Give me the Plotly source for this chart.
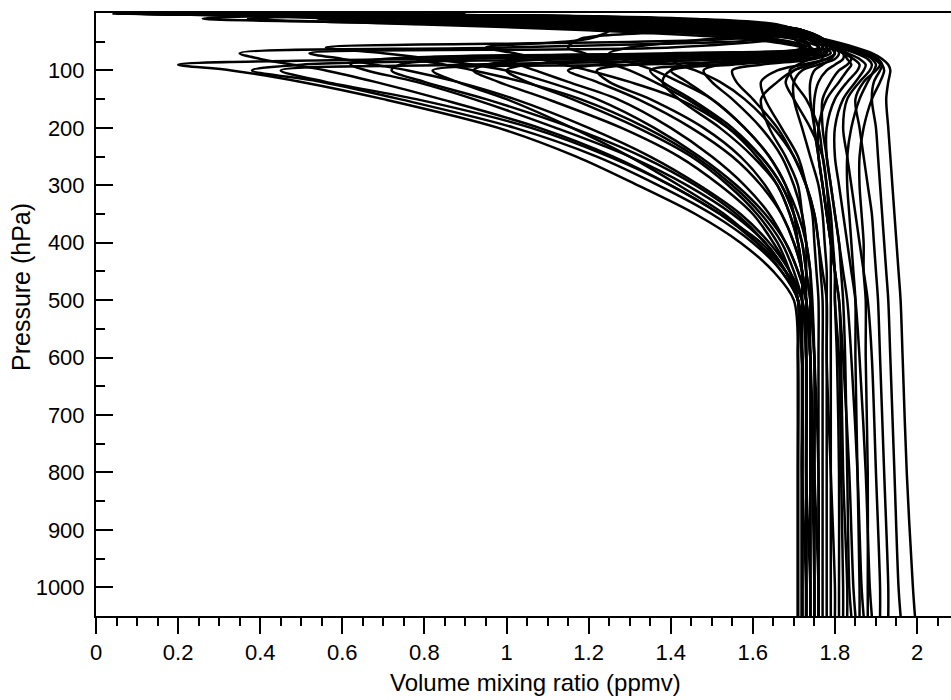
import plotly.graph_objects as go

# Pressure levels (hPa), top to bottom
p_hpa = [1, 5, 10, 20, 30, 45, 60, 70, 80, 90, 100, 120, 150, 200, 250, 300, 350, 400, 450, 500, 600, 800, 1000, 1050]

# Volume mixing ratio profiles (ppmv), one value per pressure level
prof_p01 = [0.10, 0.60, 0.95, 1.30, 1.55, 1.70, 1.72, 1.62, 0.75, 0.20, 0.33, 0.50, 0.70, 0.98, 1.17, 1.32, 1.46, 1.57, 1.65, 1.70, 1.71, 1.71, 1.71, 1.71]
prof_p02 = [0.05, 0.45, 0.80, 1.15, 1.45, 1.62, 1.00, 0.35, 0.40, 0.48, 0.56, 0.68, 0.84, 1.08, 1.26, 1.40, 1.52, 1.61, 1.68, 1.71, 1.72, 1.72, 1.72, 1.72]
prof_p03 = [0.15, 0.70, 1.05, 1.38, 1.60, 1.72, 1.74, 1.70, 1.20, 0.50, 0.38, 0.55, 0.74, 1.02, 1.22, 1.37, 1.50, 1.60, 1.67, 1.71, 1.72, 1.72, 1.72, 1.72]
prof_p04 = [0.20, 0.80, 1.15, 1.45, 1.63, 1.75, 1.76, 1.74, 1.55, 0.90, 0.45, 0.56, 0.78, 1.06, 1.25, 1.40, 1.52, 1.62, 1.68, 1.72, 1.73, 1.73, 1.73, 1.73]
prof_p05 = [0.25, 0.55, 0.70, 1.00, 1.35, 1.66, 1.40, 0.52, 0.60, 0.68, 0.76, 0.88, 1.02, 1.20, 1.35, 1.47, 1.57, 1.64, 1.69, 1.72, 1.73, 1.73, 1.74, 1.74]
prof_p06 = [0.30, 0.95, 1.30, 1.58, 1.70, 1.55, 0.56, 0.70, 0.82, 0.92, 1.00, 1.10, 1.22, 1.36, 1.47, 1.56, 1.63, 1.68, 1.71, 1.73, 1.74, 1.74, 1.74, 1.74]
prof_p07 = [0.40, 1.10, 1.40, 1.62, 1.72, 1.77, 1.78, 1.40, 0.78, 0.85, 0.92, 1.04, 1.18, 1.34, 1.46, 1.55, 1.62, 1.67, 1.70, 1.72, 1.73, 1.73, 1.73, 1.73]
prof_p08 = [0.12, 0.65, 1.00, 1.35, 1.58, 1.73, 1.76, 1.75, 1.68, 1.30, 0.82, 0.88, 1.00, 1.16, 1.30, 1.42, 1.53, 1.61, 1.67, 1.71, 1.72, 1.72, 1.72, 1.72]
prof_p09 = [0.08, 0.35, 0.60, 0.90, 1.25, 1.20, 0.95, 1.02, 1.08, 1.14, 1.20, 1.30, 1.42, 1.54, 1.62, 1.67, 1.70, 1.72, 1.73, 1.74, 1.75, 1.75, 1.75, 1.75]
prof_p10 = [0.22, 0.85, 1.20, 1.50, 1.66, 1.74, 1.76, 1.50, 1.00, 1.03, 1.07, 1.15, 1.27, 1.40, 1.50, 1.58, 1.64, 1.68, 1.71, 1.73, 1.74, 1.74, 1.74, 1.74]
prof_p11 = [0.06, 0.50, 0.85, 1.20, 1.48, 1.18, 1.15, 1.19, 1.22, 1.26, 1.30, 1.36, 1.44, 1.54, 1.61, 1.66, 1.69, 1.71, 1.72, 1.73, 1.74, 1.75, 1.76, 1.76]
prof_p12 = [0.18, 0.75, 1.10, 1.42, 1.62, 1.75, 1.78, 1.78, 1.72, 1.50, 1.35, 1.38, 1.45, 1.55, 1.62, 1.67, 1.70, 1.72, 1.73, 1.74, 1.75, 1.76, 1.76, 1.76]
prof_p13 = [0.32, 1.00, 1.34, 1.60, 1.71, 1.76, 1.77, 1.65, 1.40, 1.42, 1.46, 1.52, 1.58, 1.65, 1.70, 1.73, 1.75, 1.76, 1.77, 1.78, 1.78, 1.79, 1.80, 1.80]
prof_p14 = [0.28, 0.58, 0.75, 1.05, 1.40, 1.70, 1.74, 1.45, 0.70, 0.62, 0.66, 0.78, 0.92, 1.12, 1.30, 1.44, 1.55, 1.63, 1.68, 1.71, 1.72, 1.72, 1.73, 1.73]
prof_p15 = [0.70, 0.42, 0.26, 0.90, 1.30, 1.65, 1.74, 1.76, 1.77, 1.74, 1.70, 1.66, 1.62, 1.64, 1.68, 1.71, 1.72, 1.73, 1.74, 1.74, 1.74, 1.745, 1.75, 1.75]
prof_p16 = [0.80, 0.55, 0.37, 0.80, 1.20, 1.58, 1.72, 1.75, 1.70, 1.55, 1.40, 1.38, 1.42, 1.52, 1.60, 1.66, 1.69, 1.71, 1.72, 1.72, 1.72, 1.72, 1.72, 1.72]
prof_p17 = [0.90, 0.70, 0.54, 0.95, 1.35, 1.62, 1.73, 1.70, 1.30, 1.05, 1.00, 1.05, 1.16, 1.32, 1.45, 1.54, 1.61, 1.66, 1.69, 1.71, 1.71, 1.71, 1.71, 1.71]

prof_t01 = [0.20, 0.85, 1.22, 1.52, 1.67, 1.77, 1.85, 1.89, 1.915, 1.93, 1.935, 1.93, 1.925, 1.93, 1.935, 1.94, 1.945, 1.95, 1.955, 1.96, 1.965, 1.975, 1.99, 1.995]
prof_t02 = [0.12, 0.68, 1.02, 1.36, 1.60, 1.76, 1.84, 1.88, 1.905, 1.915, 1.91, 1.895, 1.89, 1.90, 1.905, 1.91, 1.915, 1.92, 1.925, 1.93, 1.935, 1.945, 1.955, 1.96]
prof_t03 = [0.35, 1.05, 1.38, 1.62, 1.72, 1.77, 1.82, 1.86, 1.895, 1.91, 1.90, 1.87, 1.85, 1.86, 1.87, 1.88, 1.89, 1.895, 1.90, 1.905, 1.91, 1.92, 1.93, 1.93]
prof_t04 = [0.05, 0.50, 0.88, 1.25, 1.52, 1.74, 1.81, 1.85, 1.88, 1.89, 1.885, 1.86, 1.83, 1.82, 1.83, 1.84, 1.85, 1.86, 1.87, 1.88, 1.89, 1.90, 1.91, 1.91]
prof_t05 = [0.28, 0.92, 1.28, 1.56, 1.69, 1.77, 1.80, 1.83, 1.86, 1.875, 1.87, 1.85, 1.82, 1.80, 1.80, 1.81, 1.82, 1.83, 1.84, 1.85, 1.86, 1.875, 1.885, 1.89]
prof_t06 = [0.16, 0.72, 1.08, 1.40, 1.62, 1.76, 1.79, 1.82, 1.845, 1.86, 1.855, 1.83, 1.80, 1.78, 1.78, 1.79, 1.80, 1.81, 1.82, 1.83, 1.84, 1.855, 1.865, 1.87]
prof_t07 = [0.38, 1.08, 1.40, 1.63, 1.72, 1.77, 1.80, 1.82, 1.83, 1.84, 1.83, 1.81, 1.78, 1.76, 1.76, 1.77, 1.78, 1.79, 1.80, 1.81, 1.82, 1.835, 1.845, 1.85]
prof_t08 = [0.10, 0.62, 0.98, 1.33, 1.58, 1.75, 1.80, 1.82, 1.82, 1.80, 1.78, 1.76, 1.75, 1.75, 1.76, 1.77, 1.78, 1.79, 1.80, 1.81, 1.815, 1.82, 1.83, 1.83]
prof_t09 = [0.24, 0.88, 1.25, 1.55, 1.68, 1.75, 1.79, 1.80, 1.78, 1.74, 1.70, 1.68, 1.70, 1.74, 1.77, 1.78, 1.79, 1.795, 1.80, 1.80, 1.805, 1.81, 1.81, 1.81]
prof_t10 = [0.42, 1.12, 1.42, 1.64, 1.72, 1.76, 1.78, 1.77, 1.74, 1.71, 1.69, 1.70, 1.73, 1.76, 1.77, 1.78, 1.785, 1.79, 1.79, 1.79, 1.79, 1.79, 1.79, 1.79]
prof_t11 = [0.14, 0.70, 1.05, 1.38, 1.61, 1.77, 1.82, 1.87, 1.89, 1.90, 1.895, 1.88, 1.86, 1.84, 1.83, 1.83, 1.835, 1.84, 1.845, 1.85, 1.85, 1.855, 1.86, 1.86]
prof_t12 = [0.30, 0.98, 1.32, 1.59, 1.70, 1.77, 1.83, 1.87, 1.90, 1.915, 1.92, 1.91, 1.89, 1.87, 1.86, 1.86, 1.865, 1.87, 1.87, 1.875, 1.875, 1.88, 1.88, 1.88]

prof_m01 = [0.18, 0.78, 1.12, 1.44, 1.64, 1.76, 1.78, 1.72, 1.40, 1.22, 1.15, 1.22, 1.32, 1.45, 1.55, 1.62, 1.67, 1.70, 1.72, 1.73, 1.73, 1.73, 1.73, 1.73]
prof_m02 = [0.08, 0.55, 0.90, 1.26, 1.53, 1.74, 1.77, 1.76, 1.60, 1.45, 1.40, 1.44, 1.50, 1.58, 1.64, 1.68, 1.71, 1.73, 1.74, 1.745, 1.75, 1.75, 1.75, 1.75]
prof_m03 = [0.26, 0.90, 1.26, 1.55, 1.69, 1.76, 1.78, 1.79, 1.75, 1.62, 1.55, 1.56, 1.60, 1.66, 1.70, 1.73, 1.75, 1.76, 1.765, 1.77, 1.77, 1.77, 1.77, 1.77]
prof_m04 = [0.45, 1.15, 1.45, 1.66, 1.70, 1.50, 1.30, 1.25, 1.28, 1.32, 1.36, 1.42, 1.50, 1.58, 1.64, 1.68, 1.70, 1.71, 1.72, 1.72, 1.72, 1.72, 1.72, 1.72]
prof_m05 = [0.04, 0.40, 0.72, 1.08, 1.40, 1.70, 1.76, 1.70, 1.50, 1.30, 1.22, 1.25, 1.35, 1.48, 1.57, 1.63, 1.67, 1.70, 1.72, 1.73, 1.74, 1.74, 1.74, 1.74]
prof_m06 = [0.34, 1.02, 1.36, 1.61, 1.71, 1.77, 1.79, 1.80, 1.78, 1.72, 1.66, 1.62, 1.63, 1.67, 1.71, 1.73, 1.745, 1.75, 1.755, 1.76, 1.76, 1.76, 1.76, 1.76]
prof_m07 = [0.14, 0.66, 1.00, 1.34, 1.58, 1.74, 1.76, 1.60, 1.10, 0.95, 0.92, 0.98, 1.10, 1.28, 1.42, 1.52, 1.60, 1.65, 1.69, 1.71, 1.71, 1.71, 1.71, 1.71]
prof_m08 = [0.22, 0.82, 1.18, 1.48, 1.66, 1.76, 1.77, 1.55, 0.90, 0.74, 0.72, 0.80, 0.95, 1.16, 1.33, 1.46, 1.56, 1.63, 1.68, 1.71, 1.72, 1.72, 1.72, 1.72]
prof_m09 = [0.10, 0.60, 0.94, 1.30, 1.56, 1.75, 1.80, 1.81, 1.80, 1.76, 1.72, 1.70, 1.70, 1.72, 1.74, 1.76, 1.77, 1.775, 1.78, 1.78, 1.78, 1.78, 1.78, 1.78]
prof_m10 = [0.36, 1.06, 1.38, 1.62, 1.72, 1.77, 1.79, 1.77, 1.65, 1.52, 1.48, 1.50, 1.55, 1.62, 1.67, 1.70, 1.72, 1.73, 1.73, 1.73, 1.73, 1.73, 1.73, 1.73]
prof_m11 = [0.20, 0.80, 1.16, 1.47, 1.65, 1.76, 1.79, 1.80, 1.79, 1.77, 1.75, 1.74, 1.74, 1.75, 1.76, 1.77, 1.78, 1.79, 1.80, 1.80, 1.81, 1.815, 1.82, 1.82]
prof_m12 = [0.06, 0.48, 0.84, 1.20, 1.50, 1.74, 1.80, 1.83, 1.84, 1.83, 1.81, 1.79, 1.77, 1.77, 1.78, 1.79, 1.80, 1.81, 1.815, 1.82, 1.825, 1.83, 1.835, 1.84]

profiles = [
    prof_p01, prof_p02, prof_p03, prof_p04, prof_p05, prof_p06, prof_p07, prof_p08, prof_p09,
    prof_p10, prof_p11, prof_p12, prof_p13, prof_p14, prof_p15, prof_p16, prof_p17,
    prof_t01, prof_t02, prof_t03, prof_t04, prof_t05, prof_t06, prof_t07, prof_t08, prof_t09,
    prof_t10, prof_t11, prof_t12,
    prof_m01, prof_m02, prof_m03, prof_m04, prof_m05, prof_m06, prof_m07, prof_m08, prof_m09,
    prof_m10, prof_m11, prof_m12,
]

x_tickvals = [0, 0.2, 0.4, 0.6, 0.8, 1.0, 1.2, 1.4, 1.6, 1.8, 2.0]
x_ticktext = ["0", "0.2", "0.4", "0.6", "0.8", "1", "1.2", "1.4", "1.6", "1.8", "2"]
y_tickvals = [100, 200, 300, 400, 500, 600, 700, 800, 900, 1000]
y_minorvals = [50, 150, 250, 350, 450, 550, 650, 750, 850, 950, 1050]

FONT = "Liberation Sans, Arial, Helvetica, sans-serif"

fig = go.Figure()
for prof in profiles:
    fig.add_trace(go.Scatter(
        x=prof, y=p_hpa, mode="lines",
        line=dict(color="black", width=2.5, shape="spline", smoothing=0.9),
        showlegend=False, hoverinfo="skip",
    ))

fig.update_layout(
    width=951, height=700,
    margin=dict(l=96, r=0, t=13, b=84),
    paper_bgcolor="white", plot_bgcolor="white",
    font=dict(family=FONT, color="black", size=22),
    showlegend=False,
    xaxis=dict(
        range=[0, 2.0828], showgrid=False, zeroline=False,
        showline=True, linecolor="black", linewidth=2, mirror=True,
        ticks="outside", ticklen=16, tickwidth=2, tickcolor="black",
        tickvals=x_tickvals, ticktext=x_ticktext,
        tickfont=dict(size=22, family=FONT, color="black"),
        ticklabelstandoff=0,
        minor=dict(dtick=0.05, tick0=0, ticks="outside", ticklen=8, tickwidth=2, tickcolor="black", showgrid=False),
    ),
    yaxis=dict(
        range=[1050, 0], showgrid=False, zeroline=False,
        showline=True, linecolor="black", linewidth=2,
        ticks="inside", ticklen=17, tickwidth=2, tickcolor="black",
        tickvals=y_tickvals,
        tickfont=dict(size=22, family=FONT, color="black"),
        ticklabelstandoff=5,
        minor=dict(tickvals=y_minorvals, ticks="inside", ticklen=9, tickwidth=2, tickcolor="black", showgrid=False),
    ),
    yaxis2=dict(
        range=[1050, 0], overlaying="y", side="right", anchor="x",
        showgrid=False, zeroline=False, showline=False, showticklabels=False,
        ticks="inside", ticklen=11, tickwidth=2, tickcolor="black",
        tickvals=y_tickvals,
        minor=dict(tickvals=y_minorvals, ticks="inside", ticklen=3, tickwidth=2, tickcolor="black", showgrid=False),
    ),
    annotations=[
        dict(text="Volume mixing ratio (ppmv)", xref="paper", yref="paper",
             x=0.5146, y=-0.084, xanchor="center", yanchor="top", showarrow=False,
             font=dict(size=24, family=FONT, color="black")),
        dict(text="Pressure (hPa)", xref="paper", yref="paper",
             x=-0.0877, y=0.5456, xanchor="center", yanchor="middle", showarrow=False,
             textangle=-90, font=dict(size=25, family=FONT, color="black")),
    ],
)

fig.write_html("out.html")
